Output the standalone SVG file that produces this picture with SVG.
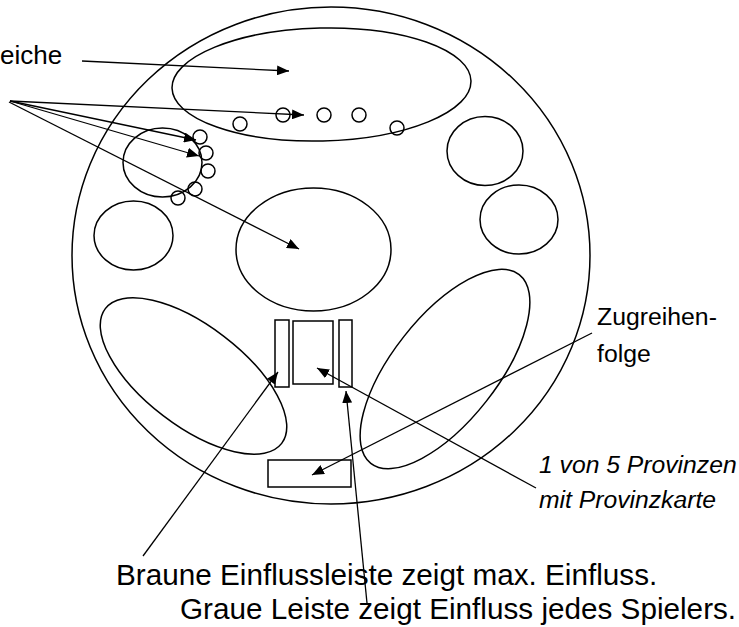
<svg xmlns="http://www.w3.org/2000/svg" width="739" height="627" viewBox="0 0 739 627">
<defs>
<marker id="ah" markerWidth="12" markerHeight="10" refX="12" refY="5" orient="auto" markerUnits="userSpaceOnUse">
<path d="M0,0 L12,5 L0,10 Z" fill="#000"/>
</marker>
<style>
.s{fill:none;stroke:#000;stroke-width:1.5}
.l{fill:none;stroke:#000;stroke-width:1.3;marker-end:url(#ah)}
.t{font-family:"Liberation Sans",Arial,sans-serif;fill:#000}
.i{font-style:italic}
</style>
</defs>
<rect width="739" height="627" fill="#fff"/>
<g id="board"><ellipse class="s" cx="331" cy="255.5" rx="259" ry="248.5"/></g>
<g id="top-area"><ellipse class="s" cx="321.5" cy="84.5" rx="149.5" ry="56.5" transform="rotate(-1.4 321.5 84.5)"/></g>
<g id="left-small-area"><ellipse class="s" cx="162.5" cy="162.5" rx="39.5" ry="34.5"/></g>
<g id="right-upper-area"><ellipse class="s" cx="485" cy="151" rx="38" ry="34.5"/></g>
<g id="left-mid-area"><ellipse class="s" cx="133.5" cy="235.5" rx="39.5" ry="34.5"/></g>
<g id="right-mid-area"><ellipse class="s" cx="519" cy="219.5" rx="39" ry="34.5"/></g>
<g id="center-area"><ellipse class="s" cx="313.5" cy="249.5" rx="77.5" ry="61.5"/></g>
<g id="left-long-area"><ellipse class="s" cx="193.5" cy="376" rx="111" ry="50" transform="rotate(37.4 193.5 376)"/></g>
<g id="right-long-area"><ellipse class="s" cx="445" cy="369" rx="120" ry="52.4" transform="rotate(-51.8 445 369)"/></g>
<g id="markers">
<circle class="s" cx="240" cy="124" r="7"/>
<circle class="s" cx="283" cy="115" r="7"/>
<circle class="s" cx="324" cy="115" r="7"/>
<circle class="s" cx="359" cy="115" r="7"/>
<circle class="s" cx="397" cy="128" r="7"/>
<circle class="s" cx="200" cy="137" r="7"/>
<circle class="s" cx="206" cy="153" r="7"/>
<circle class="s" cx="208" cy="171" r="7"/>
<circle class="s" cx="195" cy="189" r="7"/>
<circle class="s" cx="178" cy="198" r="7"/>
</g>
<g id="left-bar"><rect class="s" x="275" y="320" width="14" height="67"/></g>
<g id="province"><rect class="s" x="293" y="321" width="40" height="63"/></g>
<g id="right-bar"><rect class="s" x="339" y="320" width="13" height="67"/></g>
<g id="turn-order"><rect class="s" x="268" y="460" width="83" height="27"/></g>
<g id="connectors">
<line class="l" x1="82" y1="61" x2="289" y2="71"/>
<line class="l" x1="10" y1="101" x2="304" y2="115"/>
<line class="l" x1="10" y1="101" x2="196" y2="140"/>
<line class="l" x1="10" y1="101" x2="199" y2="156"/>
<line class="l" x1="9" y1="102" x2="299" y2="249"/>
<line class="l" x1="143" y1="556" x2="278" y2="372"/>
<line class="l" x1="367" y1="603" x2="346" y2="391"/>
<line class="l" x1="592" y1="333" x2="312" y2="475"/>
<line class="l" x1="536" y1="488" x2="317" y2="368"/>
</g>
<g id="labels">
<text class="t" x="0" y="64" font-size="26">eiche</text>
<text class="t" x="597" y="325" font-size="24.8">Zugreihen-</text>
<text class="t" x="597" y="362" font-size="24.8">folge</text>
<text class="t i" x="539" y="473" font-size="24.7">1 von 5 Provinzen</text>
<text class="t i" x="539" y="508" font-size="24.7">mit Provinzkarte</text>
<text class="t" x="116" y="585" font-size="29.7">Braune Einflussleiste zeigt max. Einfluss.</text>
<text class="t" x="180" y="619" font-size="29.7">Graue Leiste zeigt Einfluss jedes Spielers.</text>
</g>
</svg>
